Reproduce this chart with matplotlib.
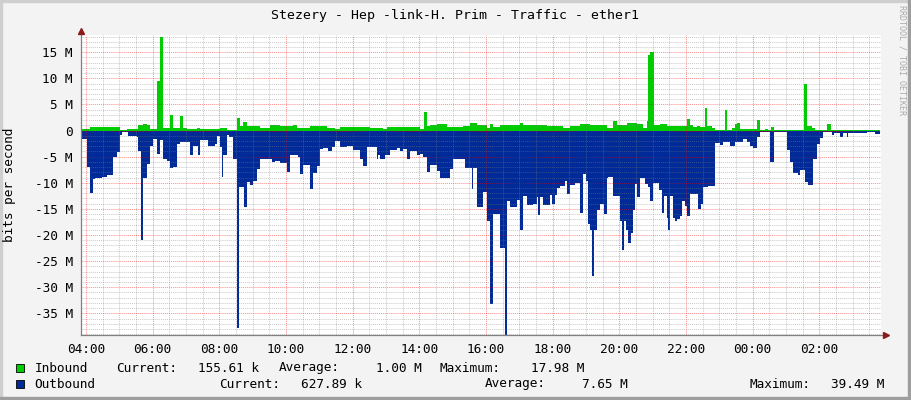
import matplotlib
matplotlib.use('Agg')
import matplotlib.pyplot as plt
from matplotlib.patches import Rectangle
import numpy as np

# time in hours since midnight of day one (>24 = next day), values in Mbit/s
in_t = [3.82, 4.12, 5.02, 5.22, 5.57, 5.72, 5.82, 5.92, 6.14, 6.22, 6.30, 6.52,
        6.62, 6.82, 6.92, 7.02, 7.32, 7.42, 8.02, 8.22, 8.52, 8.62, 8.72, 8.82,
        9.22, 9.52, 9.82, 10.22, 10.32, 10.72, 11.22, 11.47, 11.62, 12.12, 12.52,
        12.92, 13.02, 14.02, 14.14, 14.22, 14.32, 14.52, 14.82, 15.32, 15.52,
        15.72, 15.82, 16.02, 16.12, 16.22, 16.42, 17.02, 17.12, 17.82, 18.32,
        18.52, 18.82, 19.12, 19.62, 19.82, 19.92, 20.22, 20.52, 20.72, 20.82,
        20.87, 20.92, 21.04, 21.22, 21.42, 21.82, 22.02, 22.12, 22.22, 22.32,
        22.42, 22.57, 22.64, 22.77, 22.87, 23.17, 23.24, 23.37, 23.47, 23.54,
        23.62, 24.12, 24.22, 24.37, 24.47, 24.54, 24.64, 25.02, 25.54, 25.62,
        25.77, 25.87, 26.22, 26.34, 27.22, 27.72]
in_mbps = [0.3, 0.6, 0.1, 0.3, 1.0, 1.2, 1.0, 0.3, 9.4, 18.0, 0.5, 2.9,
           0.5, 2.7, 0.5, 0.3, 0.45, 0.25, 0.4, 0.1, 2.4, 0.8, 1.6, 0.8,
           0.45, 1.0, 0.8, 1.0, 0.45, 0.9, 0.45, 0.25, 0.6, 0.7, 0.45,
           0.25, 0.6, 0.25, 3.5, 0.8, 1.0, 1.2, 0.6, 0.8, 1.5,
           1.0, 1.0, 0.5, 1.3, 0.65, 1.1, 1.5, 1.0, 0.85, 0.5,
           0.8, 1.2, 1.1, 0.5, 1.8, 1.0, 1.5, 1.3, 0.5, 1.9,
           14.5, 15.0, 1.1, 1.3, 0.85, 0.9, 2.3, 1.1, 0.65, 0.85,
           0.65, 4.4, 0.8, 0.5, 0.1, 4.0, 0.2, 0.5, 1.2, 1.5,
           0.25, 2.1, 0.1, 0.25, 0.1, 0.6, 0.05, 0.2, 9.0, 0.8,
           0.5, 0.2, 1.2, 0.03, 0.05, 0.16]

out_t = [3.82, 4.02, 4.12, 4.22, 4.27, 4.47, 4.62, 4.82, 4.92, 5.02, 5.07, 5.27,
         5.52, 5.57, 5.65, 5.70, 5.84, 5.92, 6.00, 6.14, 6.22, 6.32, 6.44, 6.52,
         6.62, 6.72, 6.82, 7.12, 7.22, 7.37, 7.42, 7.50, 7.67, 7.87, 7.94, 8.02,
         8.07, 8.12, 8.22, 8.30, 8.42, 8.54, 8.60, 8.74, 8.82, 8.92, 9.02, 9.12,
         9.22, 9.57, 9.67, 9.82, 10.02, 10.12, 10.37, 10.42, 10.52, 10.72, 10.82,
         10.92, 11.02, 11.12, 11.27, 11.37, 11.47, 11.62, 11.82, 12.02, 12.22,
         12.32, 12.42, 12.72, 12.77, 12.82, 12.97, 13.12, 13.32, 13.42, 13.52,
         13.62, 13.72, 13.92, 14.02, 14.12, 14.22, 14.32, 14.52, 14.62, 14.92,
         15.02, 15.37, 15.57, 15.62, 15.72, 15.82, 15.92, 16.02, 16.12, 16.22,
         16.42, 16.57, 16.62, 16.72, 16.92, 17.02, 17.12, 17.22, 17.42, 17.52,
         17.57, 17.62, 17.72, 17.92, 17.97, 18.07, 18.14, 18.22, 18.37, 18.44,
         18.52, 18.67, 18.82, 18.92, 19.00, 19.07, 19.12, 19.17, 19.24, 19.32,
         19.42, 19.54, 19.62, 19.67, 19.82, 20.02, 20.07, 20.14, 20.20, 20.27,
         20.34, 20.42, 20.47, 20.52, 20.62, 20.77, 20.87, 20.92, 21.02, 21.20,
         21.27, 21.34, 21.42, 21.47, 21.52, 21.62, 21.67, 21.74, 21.82, 21.87,
         21.97, 22.04, 22.12, 22.37, 22.44, 22.52, 22.67, 22.87, 23.02, 23.12,
         23.32, 23.47, 23.72, 23.82, 23.92, 24.02, 24.12, 24.22, 24.52, 24.64,
         25.02, 25.12, 25.22, 25.37, 25.42, 25.57, 25.67, 25.82, 25.92, 26.02,
         26.12, 26.37, 26.44, 26.62, 26.72, 26.82, 26.87, 27.42, 27.67]
out_mbps = [1.7, 6.9, 12.0, 9.3, 9.0, 8.8, 8.5, 5.0, 4.2, 0.8, 0.3, 1.0,
            1.3, 4.0, 21.0, 9.0, 6.4, 2.9, 1.6, 4.4, 1.8, 5.4, 5.8, 7.2,
            6.9, 2.6, 2.1, 4.6, 2.9, 4.6, 1.9, 1.8, 2.9, 2.6, 1.0, 3.2,
            8.8, 4.6, 0.8, 1.2, 5.4, 37.8, 10.9, 14.7, 9.9, 10.4, 9.6, 7.4,
            5.4, 6.1, 5.8, 6.3, 8.0, 4.6, 5.1, 8.3, 6.5, 11.2, 8.1,
            6.7, 3.5, 3.3, 4.0, 3.2, 2.0, 3.2, 2.9, 3.7, 5.4,
            6.7, 3.2, 5.4, 4.6, 5.4, 4.6, 3.8, 3.3, 4.0, 3.5,
            5.4, 4.0, 4.6, 4.4, 5.1, 8.0, 6.6, 7.7, 9.0, 7.4,
            5.4, 7.1, 11.2, 7.1, 14.6, 14.6, 11.7, 17.3, 33.2, 16.0,
            22.4, 40.0, 13.5, 14.6, 13.3, 19.0, 12.5, 14.2, 14.0, 12.7,
            16.2, 12.7, 14.2, 12.3, 14.0, 12.3, 11.0, 10.6, 9.6, 12.2,
            10.4, 10.1, 15.7, 8.3, 9.6, 17.8, 19.1, 27.9, 19.1, 15.3,
            14.0, 15.9, 9.0, 8.8, 12.5, 17.3, 22.8, 17.3, 19.1, 21.6,
            19.7, 15.2, 10.3, 12.7, 9.0, 10.3, 10.9, 13.5, 10.1, 11.3,
            15.7, 12.5, 16.7, 19.0, 12.5, 16.7, 17.3, 17.0, 16.3, 13.5,
            14.4, 16.3, 12.2, 15.1, 14.1, 10.9, 10.6, 2.4, 2.7, 2.2,
            2.9, 2.1, 1.6, 2.2, 2.9, 3.3, 1.2, 0.3, 6.1, 0.25,
            3.8, 6.1, 8.2, 8.5, 7.6, 9.9, 10.4, 5.4, 2.6, 1.4,
            0.3, 0.8, 0.5, 1.2, 0.5, 1.3, 0.4, 0.25, 0.63]
t_end = 27.82

x_ticks = [4, 6, 8, 10, 12, 14, 16, 18, 20, 22, 24, 26]
x_tick_labels = ["04:00", "06:00", "08:00", "10:00", "12:00", "14:00",
                 "16:00", "18:00", "20:00", "22:00", "00:00", "02:00"]
y_ticks = [15, 10, 5, 0, -5, -10, -15, -20, -25, -30, -35]
y_tick_labels = ["15 M", "10 M", "5 M", "0", "-5 M", "-10 M", "-15 M",
                 "-20 M", "-25 M", "-30 M", "-35 M"]

in_stats = ["155.61 k", "1.00 M", "17.98 M"]
out_stats = ["627.89 k", "7.65 M", "39.49 M"]

GREEN = '#00CC00'
BLUE = '#002A97'
W, H = 911, 400

plt.rcParams['font.family'] = 'DejaVu Sans Mono'
FS = 9.2

fig = plt.figure(figsize=(W / 100, H / 100), dpi=100)
fig.patch.set_facecolor('#F3F3F3')
ax = fig.add_axes([81 / W, 65 / H, 800 / W, 300 / H])
ax.set_facecolor('white')

x_in = in_t + [t_end]
y_in = in_mbps + [in_mbps[-1]]
x_out = out_t + [t_end]
y_out = [-v for v in out_mbps] + [-out_mbps[-1]]
ax.fill_between(x_in, 0, y_in, step='post', color=GREEN, linewidth=0)
ax.fill_between(x_out, 0, y_out, step='post', color=BLUE, linewidth=0)

ax.set_xlim(3.85, 27.85)
ax.set_ylim(-39.15, 18.3)

ax.set_xticks(x_ticks)
ax.set_xticklabels(x_tick_labels, fontsize=FS)
ax.set_xticks([h + 0.5 * k for h in range(4, 28, 2) for k in (1, 2, 3)], minor=True)
ax.set_yticks(y_ticks)
ax.set_yticklabels(y_tick_labels, fontsize=FS)
ax.set_yticks([v for v in range(-39, 19) if v % 5 != 0], minor=True)
ax.tick_params(which='both', length=0)
ax.tick_params(axis='x', pad=6)
ax.tick_params(axis='y', pad=6)

# grid sits on top of the areas, like rrdtool draws it
ax.set_axisbelow(False)
ax.grid(which='major', color='#FF0000', alpha=0.45, linestyle=(0, (1, 1)), linewidth=0.7)
ax.grid(which='minor', color='#808080', alpha=0.42, linestyle=(0, (1, 1)), linewidth=0.7)

for s in ax.spines.values():
    s.set_visible(False)

# axes with arrows, rrdtool style
ax.plot([0, 1.004], [0, 0], transform=ax.transAxes, color='#808080', lw=0.9, clip_on=False)
ax.plot([0, 0], [0, 1.01], transform=ax.transAxes, color='#808080', lw=0.9, clip_on=False)
ax.plot([1.006], [0], marker='>', ms=4, color='#8B1A1A', transform=ax.transAxes, clip_on=False)
ax.plot([0], [1.014], marker='^', ms=4, color='#8B1A1A', transform=ax.transAxes, clip_on=False)


def px(x, y):
    return x / W, 1 - y / H


fig.text(*px(455, 15), "Stezery - Hep -link-H. Prim - Traffic - ether1",
         ha='center', va='center', fontsize=FS + 0.3)
fig.text(*px(10, 185), "bits per second", rotation=90, ha='center', va='center', fontsize=FS)
fig.text(*px(902, 60), "RRDTOOL / TOBI OETIKER", rotation=-90, ha='center', va='center',
         fontsize=6, color='#AAAAAA')

# legend
for y, color, name, stats, xs in [
        (368, GREEN, "Inbound", in_stats, [(116, 259), (279, 422), (440, 584)]),
        (384, BLUE, "Outbound", out_stats, [(219, 362), (485, 628), (750, 884)])]:
    fig.add_artist(Rectangle(px(16, y + 4), 8 / W, 8 / H, transform=fig.transFigure,
                             facecolor=color, edgecolor='black', linewidth=0.6))
    fig.text(*px(34.5, y), name, ha='left', va='center', fontsize=FS)
    for (xl, xr), lab, val in zip(xs, ["Current:", "Average:", "Maximum:"], stats):
        fig.text(*px(xl, y), lab, ha='left', va='center', fontsize=FS)
        fig.text(*px(xr, y), val, ha='right', va='center', fontsize=FS)

# 3d frame
fig.add_artist(Rectangle((0, 1 - 2 / H), 1, 2 / H, transform=fig.transFigure, color='#CFCFCF'))
fig.add_artist(Rectangle((0, 0), 2 / W, 1, transform=fig.transFigure, color='#CFCFCF'))
fig.add_artist(Rectangle((0, 0), 1, 3 / H, transform=fig.transFigure, color='#9E9E9E'))
fig.add_artist(Rectangle((1 - 3 / W, 0), 3 / W, 1, transform=fig.transFigure, color='#9E9E9E'))

fig.savefig('out.png', dpi=100, facecolor=fig.get_facecolor())
plt.close(fig)
